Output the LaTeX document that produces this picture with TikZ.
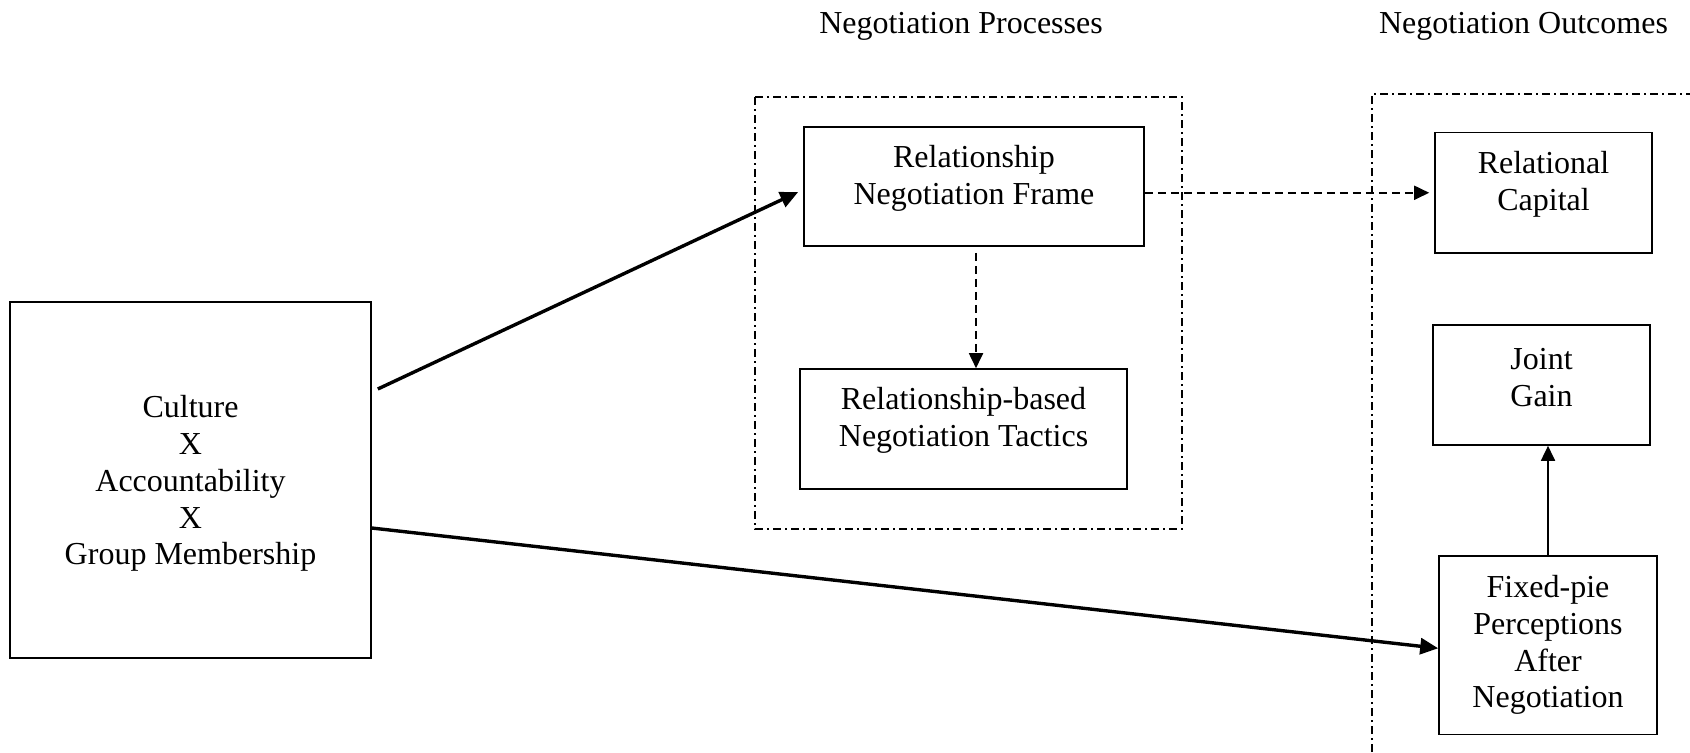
\documentclass[tikz,border=0pt]{standalone}
\usepackage{fontspec}
\setmainfont{Liberation Serif}
\usetikzlibrary{arrows.meta}
\begin{document}
\begin{tikzpicture}[x=0.5pt,y=-0.5pt,
  box/.style={draw, line width=0.8pt, inner sep=0pt},
  txt/.style={align=center, font=\fontsize{16}{18.4}\selectfont, inner sep=0pt},
  grouping/.style={draw, line width=0.9pt, dash pattern=on 4pt off 2pt on 1pt off 2pt},
  boldarrow/.style={line width=1.7pt, -{Triangle[length=9pt,width=8pt]}},
  dasharrow/.style={line width=0.9pt, dash pattern=on 4pt off 2.5pt, -{Triangle[length=7.5pt,width=7pt]}},
  thinarrow/.style={line width=0.9pt, -{Triangle[length=7.5pt,width=7pt]}}
]
\useasboundingbox (0,0) rectangle (1690,752);

% column headings
\node[txt] (procT) at (961,26.5) {Negotiation Processes};
\node[txt] (outT) at (1523.5,26.5) {Negotiation Outcomes};

% grouping frames
\draw[grouping] (755,97) rectangle (1182,529);
\draw[grouping] (1372,752) -- (1372,94) -- (1690,94);

% boxes
\node[box, minimum width=180.5pt, minimum height=178pt] (culture) at (190.5,480) {};
\node[txt] (cultureT) at (190.5,483.5) {Culture\\X\\Accountability\\X\\Group Membership};

\node[box, minimum width=170pt, minimum height=59.5pt] (frame) at (974,186.5) {};
\node[txt] (frameT) at (974,178.5) {Relationship\\Negotiation Frame};

\node[box, minimum width=163.5pt, minimum height=60pt] (tactics) at (963.5,429) {};
\node[txt] (tacticsT) at (963.5,420) {Relationship-based\\Negotiation Tactics};

\node[box, minimum width=108.5pt, minimum height=60.25pt] (capital) at (1543.5,192.75) {};
\node[txt] (capitalT) at (1543.5,184.5) {Relational\\Capital};

\node[box, minimum width=108.5pt, minimum height=60pt] (joint) at (1541.5,385) {};
\node[txt] (jointT) at (1541.5,377.5) {Joint\\Gain};

\node[box, minimum width=109pt, minimum height=89.25pt] (fixed) at (1548,645.25) {};
\node[txt] (fixedT) at (1548,645) {Fixed-pie\\Perceptions\\After\\Negotiation};

% connectors
\draw[boldarrow] ([xshift=3pt,yshift=45.5pt]culture.east) -- ([xshift=-2.5pt,yshift=-2.75pt]frame.west);
\draw[boldarrow] ([yshift=-24pt]culture.east) -- ([yshift=-1.5pt]fixed.west);
\draw[dasharrow] ([xshift=1pt,yshift=-3pt]frame.south) -- ([xshift=1pt]frame.south |- tactics.north);
\draw[dasharrow] (frame.east |- capital.west) -- ([xshift=-2.5pt]capital.west);
\draw[thinarrow] (fixed.north) -- (fixed.north |- joint.south);
\end{tikzpicture}
\end{document}
